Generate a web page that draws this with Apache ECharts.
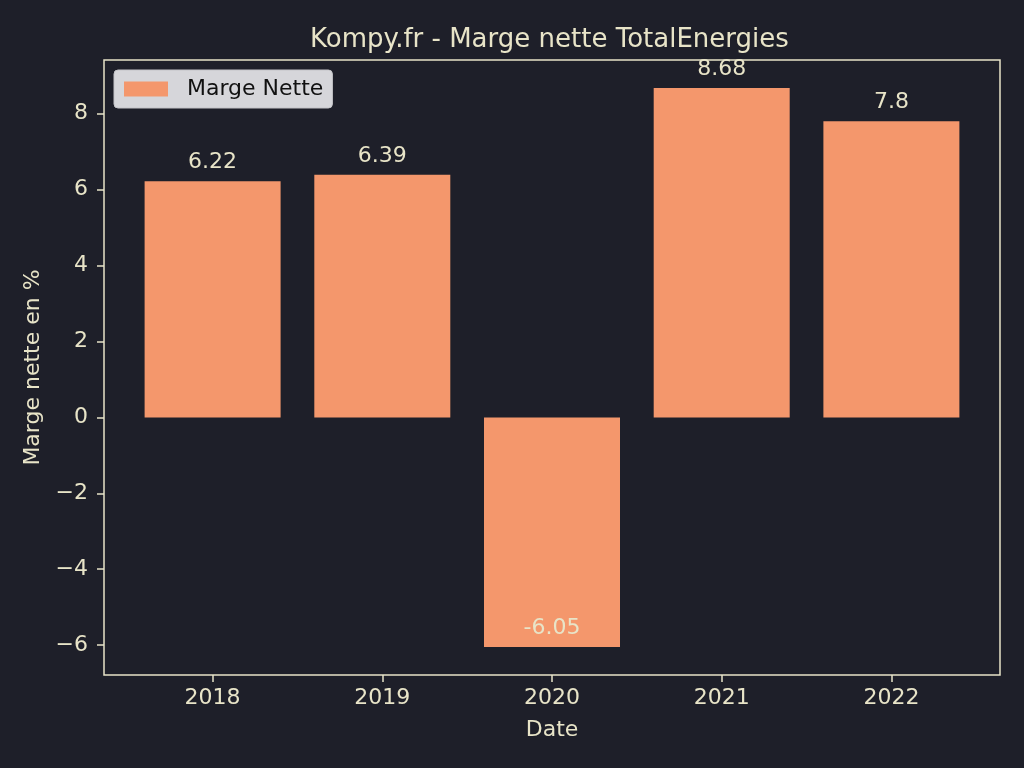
<!DOCTYPE html>
<html><head><meta charset="utf-8">
<script src="https://cdn.jsdelivr.net/npm/echarts@6/dist/echarts.min.js"></script>
<style>html,body{margin:0;padding:0;background:#1e1f29}#c{width:1024px;height:768px}</style>
</head><body><div id="c"></div>
<script>
const categories = ['2018', '2019', '2020', '2021', '2022'];
const margeNette = [6.22, 6.39, -6.05, 8.68, 7.8];
const yTicks = [-6, -4, -2, 0, 2, 4, 6, 8];
const xTicks = categories.map((c, i) => i);

const FG = '#e8e4c8';
const BAR = '#f4976c';
const FONT = 'DejaVu Sans';

const chart = echarts.init(document.getElementById('c'), null, {renderer: 'canvas'});
chart.setOption({
  backgroundColor: '#1e1f29',
  animation: false,
  textStyle: {fontFamily: FONT},
  title: {
    text: 'Kompy.fr - Marge nette TotalEnergies',
    left: 305, top: 22,
    textStyle: {color: FG, fontSize: 26, fontWeight: 'normal', fontFamily: FONT}
  },
  legend: {
    left: 114, top: 70,
    data: ['Marge Nette'],
    icon: 'rect', itemWidth: 44, itemHeight: 15,
    padding: [8, 9, 8, 10],
    backgroundColor: 'rgba(214,214,218,1)',
    borderColor: '#c4c4c8', borderWidth: 1, borderRadius: 4,
    textStyle: {color: '#111111', fontSize: 22, fontFamily: FONT, padding: [0, 0, 0, 14]}
  },
  grid: {
    left: 104, right: 24, top: 60, bottom: 93,
    show: true, borderColor: FG, borderWidth: 1.5, backgroundColor: 'transparent'
  },
  xAxis: {
    type: 'value', min: -0.64, max: 4.64,
    name: 'Date', nameLocation: 'middle', nameGap: 44,
    nameTextStyle: {color: FG, fontSize: 22, fontFamily: FONT},
    axisLine: {show: false, onZero: false},
    splitLine: {show: false},
    axisTick: {show: true, customValues: xTicks, length: 7, lineStyle: {color: FG, width: 1.5}},
    axisLabel: {customValues: xTicks, color: FG, fontSize: 22, fontFamily: FONT, margin: 12,
      formatter: v => categories[Math.round(v)] || ''}
  },
  yAxis: {
    type: 'value', min: -6.7865, max: 9.4165,
    name: 'Marge nette en %', nameLocation: 'middle', nameGap: 57, nameRotate: 90,
    nameTextStyle: {color: FG, fontSize: 22, fontFamily: FONT},
    axisLine: {show: false, onZero: false},
    splitLine: {show: false},
    axisTick: {show: true, customValues: yTicks, length: 7, lineStyle: {color: FG, width: 1.5}},
    axisLabel: {customValues: yTicks, color: FG, fontSize: 22, fontFamily: FONT, margin: 16,
      formatter: v => v < 0 ? '\u2212' + Math.abs(v) : String(v)}
  },
  series: [{
    name: 'Marge Nette',
    type: 'bar',
    barWidth: 136,
    itemStyle: {color: BAR},
    label: {show: true, position: 'top', distance: 8, color: FG, fontSize: 22, fontFamily: FONT,
      formatter: p => String(p.value[1])},
    data: margeNette.map((v, i) => ({
      value: [i, v],
      label: v < 0 ? {position: 'insideBottom', distance: 8} : {}
    }))
  }]
});
</script></body></html>
